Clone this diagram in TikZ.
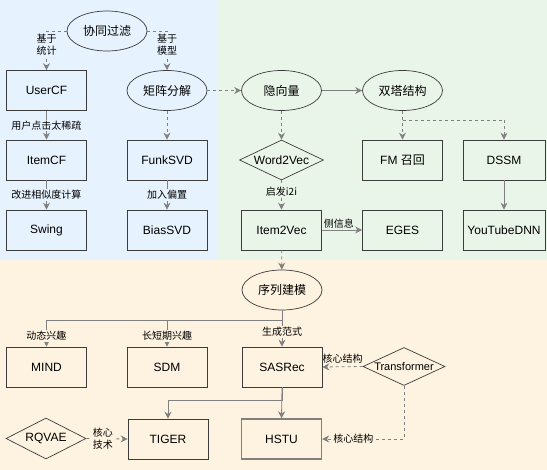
\documentclass[tikz,border=0pt]{standalone}
\usepackage{fontspec}
\setmainfont{Liberation Sans}
\newfontfamily\cjk{Noto Sans CJK SC}
\usetikzlibrary{arrows.meta,shapes.geometric}
\definecolor{bgblue}{HTML}{E6F2FD}
\definecolor{bggreen}{HTML}{EAF5E9}
\definecolor{bgorange}{HTML}{FEF2E0}
\definecolor{edgec}{HTML}{808080}
\definecolor{linec}{HTML}{3C3C3C}
\begin{document}
\begin{tikzpicture}[x=1pt,y=-1pt,
  base/.style={draw=linec, line width=0.7pt, inner sep=0pt, font=\fontsize{12}{14}\selectfont},
  box/.style={base, rectangle, minimum width=80pt, minimum height=40pt},
  ell/.style={base, ellipse, minimum width=80pt, minimum height=40pt, font=\fontsize{12}{14}\selectfont\cjk},
  dia/.style={base, diamond, aspect=2, minimum width=84pt, minimum height=40pt},
  conn/.style={draw=edgec, line width=0.8pt, -{Stealth[length=7pt,width=7pt]}},
  dconn/.style={conn, dash pattern=on 3pt off 3pt},
  lbl/.style={font=\fontsize{10}{12}\selectfont\cjk, inner sep=1pt, align=center, text=black}
]
\useasboundingbox (0,0) rectangle (547,470);
\fill[bgblue] (0,0) rectangle (217,260);
\fill[bggreen] (217,0) rectangle (547,260);
\fill[bgorange] (0,260) rectangle (547,470);

% nodes
\node[ell] (cf) at (107,31) {协同过滤};
\node[box] (usercf) at (46.5,90.5) {UserCF};
\node[ell] (mf) at (167,90.5) {矩阵分解};
\node[ell] (lv) at (281.5,90.5) {隐向量};
\node[ell] (tt) at (402.5,90.5) {双塔结构};
\node[box] (itemcf) at (46.5,160) {ItemCF};
\node[box] (funk) at (167,160) {FunkSVD};
\node[dia] (w2v) at (281.5,160) {Word2Vec};
\node[box] (fm) at (402.5,160) {FM {\cjk 召回}};
\node[box, minimum width=82pt] (dssm) at (504,160) {DSSM};
\node[box] (swing) at (46.5,230) {Swing};
\node[box] (bias) at (167,230) {BiasSVD};
\node[box] (i2v) at (281.5,230) {Item2Vec};
\node[box] (eges) at (402.5,230) {EGES};
\node[box, minimum width=82pt] (ytdnn) at (504,230) {YouTubeDNN};
\node[ell] (seq) at (282,290) {序列建模};
\node[box] (mind) at (46.5,367) {MIND};
\node[box] (sdm) at (167,367) {SDM};
\node[box] (sasrec) at (282,367) {SASRec};
\node[dia, minimum width=82pt, minimum height=38pt] (trans) at (404,366.5) {\fontsize{11}{13}\selectfont Transformer};
\node[box] (tiger) at (168,439) {TIGER};
\node[box, draw=edgec, line width=1.4pt] (hstu) at (281.5,439) {HSTU};
\node[dia, minimum width=80pt, minimum height=41pt] (rqvae) at (46,438.5) {RQVAE};

\coordinate (ttsplit) at (402.5,120);
\coordinate (seqsplit) at (282,320);
\coordinate (sassplit) at (282,400);

% edges
\draw[dconn] (cf.west) -| node[lbl, fill=bgblue, pos=0.67]{基于\\统计} (usercf.north);
\draw[dconn] (cf.east) -| node[lbl, fill=bgblue, pos=0.67]{基于\\模型} (mf.north);
\draw[conn] (usercf) -- node[lbl, fill=bgblue]{用户点击太稀疏} (itemcf);
\draw[dconn] (mf) -- (funk);
\draw[dconn] (mf) -- (lv);
\draw[conn] (itemcf) -- node[lbl, fill=bgblue]{改进相似度计算} (swing);
\draw[conn] (funk) -- node[lbl, fill=bgblue]{加入偏置} (bias);
\draw[conn] (lv) -- (tt);
\draw[dconn] (lv) -- (w2v);
\draw[dconn] (tt.south) -- (fm.north);
\draw[dconn] (ttsplit) -| (dssm.north);
\draw[dconn] (w2v) -- node[lbl, fill=bggreen, pos=0.4]{启发i2i} (i2v);
\draw[conn] (dssm) -- (ytdnn);
\draw[conn] (i2v) -- node[lbl, above, pos=0.42]{侧信息} (eges);
\draw[dconn] (i2v) -- (seq);

\draw[conn] (seq.south) -- (seqsplit) -| node[lbl, fill=bgorange, pos=0.8]{动态兴趣} (mind.north);
\draw[conn] (seqsplit) -| node[lbl, fill=bgorange, pos=0.8]{长短期兴趣} (sdm.north);
\draw[conn] (seq.south) -- node[lbl, fill=bgorange, pos=0.6]{生成范式} (sasrec.north);
\draw[conn] (sasrec.south) -- (sassplit) -| (tiger.north);
\draw[conn] (sasrec.south) -- (hstu.north);
\draw[dconn] (trans.west) -- node[lbl, above=2pt]{核心结构} (sasrec.east);
\draw[dconn] (trans.south) |- node[lbl, fill=bgorange, pos=0.81]{核心结构} (hstu.east);
\draw[dconn] (rqvae.east) -- node[lbl, fill=bgorange, pos=0.4]{核心\\技术} (tiger.west);
\end{tikzpicture}
\end{document}
